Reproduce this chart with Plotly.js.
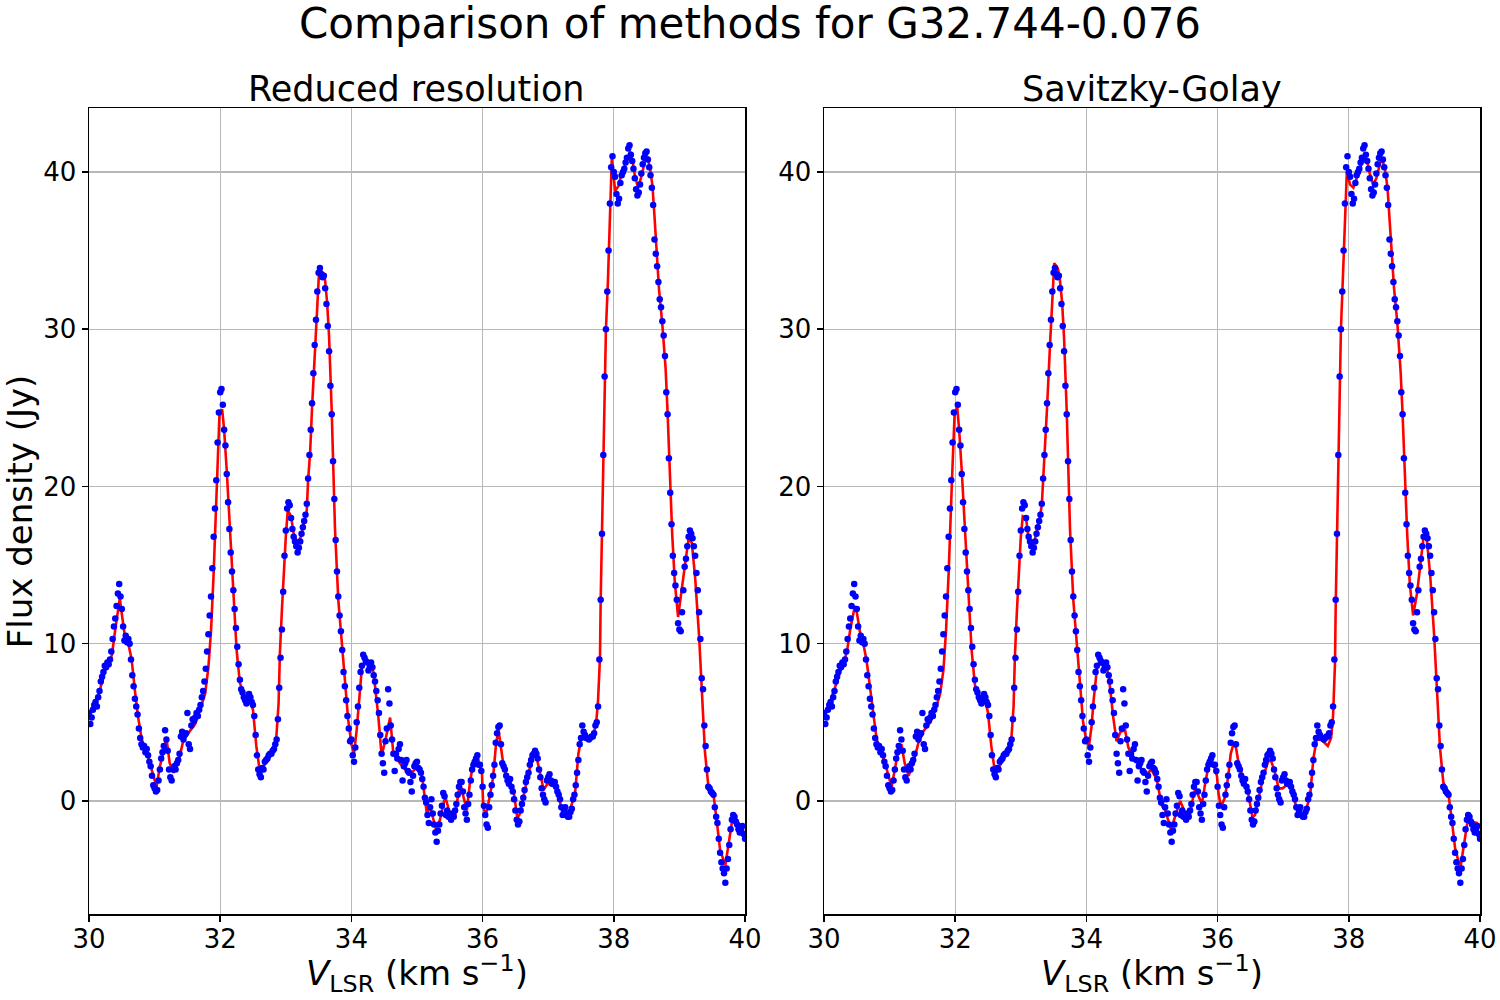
<!DOCTYPE html>
<html>
<head>
<meta charset="utf-8">
<script src="https://cdn.plot.ly/plotly-3.0.1.min.js"></script>
<style>html,body{margin:0;padding:0;background:#fff;}#chart{width:1500px;height:1000px;}</style>
</head>
<body>
<div id="chart"></div>
<script>
// ---- Data ----
const TITLE = "Comparison of methods for G32.744-0.076";
const PANEL_TITLES = ["Reduced resolution", "Savitzky-Golay"];
const X_TICKS = [30, 32, 34, 36, 38, 40];
const Y_TICKS = [0, 10, 20, 30, 40];

// Observed channels (blue dots): start velocity and channel step (km/s)
const VSTART = 30.0;
const VSTEP = 0.02;
const FLUX_OBS = [
  5.6,4.9,5.3,5.8,6.1,6.3,6.0,6.6,7.0,7.6,7.9,8.2,8.6,8.5,8.8,8.7,9.0,9.5,10.3,11.1,11.6,12.4,13.2,13.8,13.0,
  12.2,11.1,10.2,10.5,10.1,10.3,10.0,9.0,8.0,7.3,6.5,6.0,5.5,4.6,4.0,3.6,3.4,3.5,3.1,3.3,2.9,2.5,2.2,1.6,1.0,
  0.8,0.6,0.7,1.3,2.0,2.7,3.1,3.5,4.5,3.9,3.2,2.0,1.5,1.3,2.0,2.2,2.0,2.4,2.6,3.0,4.1,4.4,3.9,4.2,4.3,
  5.6,3.6,3.3,4.8,5.2,5.1,5.3,5.6,5.4,5.8,6.1,6.6,7.0,7.6,8.4,9.5,10.6,11.8,13.0,14.8,16.8,18.6,20.4,22.8,24.7,
  26.0,26.2,25.2,23.6,22.6,20.8,19.0,17.3,15.8,14.6,13.4,12.2,11.0,9.8,8.7,7.7,7.1,6.9,6.6,6.4,6.2,6.5,6.8,6.6,6.3,
  6.1,5.4,4.2,2.9,2.0,1.7,1.5,2.1,2.0,2.5,2.6,2.7,2.9,3.0,3.0,3.2,3.3,3.6,3.9,5.2,7.2,9.1,10.9,13.3,15.6,
  17.2,18.6,19.0,18.8,18.0,17.3,16.8,16.5,16.2,15.8,16.1,16.5,17.0,17.4,17.8,18.2,18.9,20.5,22.0,23.6,25.3,27.2,29.0,30.6,32.4,
  33.6,33.9,33.5,33.3,33.4,32.6,31.6,30.2,28.6,26.4,24.6,21.6,19.2,16.6,14.6,13.0,11.8,10.8,9.6,8.2,7.3,6.4,5.4,4.6,3.8,
  3.9,2.9,2.5,3.4,5.0,6.0,7.2,8.2,8.6,9.3,9.1,8.9,8.8,8.3,8.5,8.8,8.5,8.0,7.6,7.0,6.4,5.6,4.2,3.0,2.4,
  1.8,3.8,4.6,7.1,6.2,4.8,3.9,3.0,1.9,3.0,2.7,3.3,3.6,2.6,1.3,2.2,2.4,2.6,1.9,1.8,1.2,0.6,1.6,2.2,2.4,
  2.5,2.1,2.0,1.8,1.4,0.9,0.2,-0.1,-0.9,-1.4,-0.4,0.1,-0.8,-1.5,-2.0,-2.6,-1.9,-1.5,-0.8,-0.3,0.5,0.3,-0.9,-0.6,-1.0,
  -1.0,-1.2,-0.8,-1.0,-0.6,-0.2,0.4,0.9,1.2,1.2,0.6,-0.4,-0.8,-1.2,-0.2,0.4,1.3,2.0,2.3,2.5,2.7,2.9,2.3,2.3,1.9,
  0.9,-0.3,-0.9,-1.5,-1.7,-0.4,0.4,1.0,1.6,2.3,3.7,4.3,4.7,4.8,3.6,2.4,2.2,2.0,1.6,1.3,1.1,1.4,0.9,0.6,0.1,
  -0.6,-1.2,-1.5,-1.3,-0.6,-0.2,0.2,0.7,1.2,1.5,1.8,2.3,2.6,2.9,3.0,3.2,3.0,2.7,2.0,1.5,0.8,0.4,0.1,-0.1,1.3,
  1.5,1.7,1.3,1.1,1.2,1.2,0.9,0.6,0.4,0.1,-0.4,-0.9,-0.6,-0.4,-0.9,-1.0,-1.0,-0.7,-0.5,0.1,0.4,1.0,1.8,2.6,3.6,
  4.0,4.8,4.4,4.2,4.0,4.0,3.9,4.0,4.1,4.1,4.3,4.8,5.0,6.0,9.0,12.8,17.0,22.0,27.0,30.0,32.4,35.0,38.0,40.3,41.0,
  40.0,39.7,38.6,38.0,38.3,39.3,39.8,40.0,40.2,40.6,40.9,41.5,41.7,41.1,40.7,40.2,39.6,38.9,38.5,38.7,39.2,39.9,40.5,40.9,41.2,
  41.3,40.8,40.3,39.8,39.0,37.9,35.7,34.8,34.0,33.0,31.9,31.4,30.5,29.6,28.3,26.0,24.6,21.8,19.6,17.6,15.6,14.5,13.7,12.8,11.3,
  10.9,10.8,12.0,13.4,14.9,15.4,16.2,16.8,17.2,17.0,16.7,16.2,15.6,14.5,13.4,12.0,10.3,7.8,7.1,4.8,3.5,2.0,0.9,0.8,0.6,
  0.5,0.4,-0.4,-1.0,-1.4,-2.4,-3.3,-3.9,-4.3,-4.6,-5.2,-4.3,-3.7,-2.8,-1.8,-1.2,-0.9,-1.0,-1.3,-1.5,-1.8,-2.0,-1.8,-1.6,-2.1,
  -2.4
];

// Smoothed curves (red lines): velocities and fluxes
const V_SMOOTH = [
  30.00,30.05,30.10,30.15,30.20,30.25,30.30,30.35,30.40,30.47,
  30.50,30.55,30.60,30.65,30.70,30.75,30.80,30.85,30.90,30.95,
  31.03,31.08,31.13,31.18,31.23,31.29,31.36,31.44,31.51,31.62,
  31.69,31.77,31.82,31.86,31.90,31.95,31.99,32.03,32.06,32.10,
  32.15,32.20,32.25,32.30,32.38,32.45,32.50,32.55,32.60,32.63,
  32.71,32.78,32.85,32.89,32.91,32.94,32.97,33.00,33.03,33.08,
  33.12,33.18,33.23,33.28,33.32,33.34,33.37,33.40,33.45,33.49,
  33.51,33.56,33.59,33.63,33.66,33.70,33.75,33.80,33.85,33.90,
  33.95,34.00,34.04,34.08,34.11,34.16,34.20,34.30,34.34,34.41,
  34.46,34.52,34.59,34.64,34.74,34.84,34.92,34.99,35.07,35.15,
  35.20,35.29,35.35,35.43,35.50,35.58,35.63,35.66,35.70,35.76,
  35.81,35.86,35.93,35.99,36.01,36.05,36.11,36.16,36.20,36.24,
  36.28,36.32,36.39,36.47,36.53,36.57,36.62,36.70,36.77,36.81,
  36.87,36.93,36.99,37.05,37.13,37.20,37.25,37.33,37.41,37.46,
  37.51,37.58,37.68,37.73,37.76,37.79,37.80,37.82,37.84,37.86,
  37.88,37.91,37.93,37.95,37.97,38.02,38.07,38.12,38.20,38.25,
  38.29,38.32,38.37,38.42,38.48,38.51,38.55,38.59,38.62,38.66,
  38.69,38.74,38.79,38.82,38.85,38.89,38.93,38.98,39.04,39.10,
  39.14,39.19,39.24,39.30,39.34,39.39,39.44,39.52,39.57,39.62,
  39.70,39.76,39.81,39.87,39.95,40.00
];
const FLUX_REDUCED = [
  5.4,5.9,6.3,6.8,7.6,8.4,8.7,9.3,10.9,12.9,
  11.9,10.4,10.0,9.0,7.0,5.3,4.0,3.3,2.8,2.1,
  0.9,2.2,3.0,4.0,2.4,1.8,2.4,3.9,4.3,4.9,
  5.8,6.8,8.5,10.8,14.5,20.3,24.7,24.9,23.6,21.0,
  17.3,13.3,9.6,7.5,6.6,6.4,5.8,3.5,2.0,1.9,
  2.6,3.0,3.7,6.2,9.4,12.1,14.7,16.8,18.5,18.1,
  17.0,16.4,16.8,17.7,18.5,20.4,22.1,25.0,29.3,32.9,
  33.9,33.6,33.5,31.7,29.5,24.8,17.3,12.8,10.2,7.4,
  5.2,3.6,3.0,4.5,6.2,8.5,8.8,8.8,8.1,5.4,
  2.9,3.9,5.3,3.0,2.4,1.9,1.8,2.1,1.8,-0.8,
  -0.4,-1.8,-1.2,0.3,-0.8,-1.0,0.5,1.1,0.4,-0.6,
  1.3,2.4,2.7,1.8,-0.4,-0.9,0.3,1.5,3.4,4.6,
  3.4,2.2,1.3,0.7,-1.1,-0.8,0.2,1.8,2.8,3.0,
  1.9,0.7,1.1,1.0,0.8,-0.4,-0.7,-0.6,0.5,3.0,
  4.1,4.0,4.1,4.9,6.4,9.2,12.8,17.0,21.0,27.0,
  30.0,33.0,36.0,39.0,40.9,38.8,39.1,39.9,40.7,41.3,
  40.6,39.8,39.0,39.7,40.8,41.0,40.3,39.1,37.2,34.3,
  32.5,30.3,27.5,24.7,21.0,17.0,13.9,11.7,13.6,15.5,
  16.7,16.4,14.2,10.5,7.1,3.1,1.0,0.4,-1.3,-3.1,
  -4.1,-2.5,-1.1,-1.4,-1.6,-2.4
];
const FLUX_SAVGOL = [
  5.2,5.8,6.3,6.9,7.6,8.3,8.8,9.5,10.9,12.4,
  12.0,10.7,10.0,8.9,7.2,5.4,4.0,3.3,2.8,2.1,
  0.9,2.0,3.2,3.6,2.4,1.6,2.4,3.7,4.4,5.0,
  5.7,6.8,8.3,10.8,14.5,20.3,24.5,25.1,23.6,21.0,
  17.3,13.3,9.6,7.4,6.3,6.6,5.6,3.5,2.0,1.8,
  2.5,3.0,3.6,6.0,9.2,12.0,14.8,16.8,18.1,18.0,
  16.6,16.1,16.9,17.8,18.8,20.3,22.3,25.0,29.4,33.0,
  34.2,33.9,33.4,31.7,29.4,24.8,17.3,12.8,10.0,7.2,
  5.0,3.8,3.5,4.8,6.4,8.4,8.7,8.6,8.0,5.3,
  3.8,4.4,4.5,3.4,2.6,2.0,1.7,2.0,1.4,-0.3,
  -0.6,-1.8,-1.0,0.0,-0.7,-0.8,0.3,0.8,0.4,-0.2,
  1.1,2.2,2.4,1.6,0.6,-0.4,0.2,1.5,3.0,3.6,
  3.4,2.4,1.4,0.4,-1.0,-0.9,0.1,1.6,2.5,2.6,
  1.9,0.8,0.8,1.0,0.8,-0.4,-0.8,-0.8,0.3,2.7,
  3.9,3.9,3.5,4.0,5.4,8.8,12.3,16.8,21.0,26.5,
  30.0,33.3,36.0,38.5,40.0,39.2,39.0,39.6,40.6,40.9,
  40.5,39.9,39.2,39.6,40.6,40.8,40.2,39.0,37.2,34.3,
  32.6,30.4,27.3,24.6,21.0,17.0,13.8,11.8,13.2,15.4,
  16.8,16.6,14.4,10.6,7.2,3.4,1.2,0.4,-1.2,-3.0,
  -4.3,-2.7,-1.3,-1.3,-1.4,-1.6
];

// ---- Build figure ----
const V_OBS = FLUX_OBS.map((_, i) => +(VSTART + i * VSTEP).toFixed(3));
const FONT = "DejaVu Sans, Verdana, sans-serif";

function lineTrace(y, xa, ya) {
  return {x: V_SMOOTH, y: y, xaxis: xa, yaxis: ya, type: "scatter", mode: "lines",
          line: {color: "#ff0000", width: 2.6}, hoverinfo: "skip"};
}
function dotTrace(xa, ya) {
  return {x: V_OBS, y: FLUX_OBS, xaxis: xa, yaxis: ya, type: "scatter", mode: "markers",
          marker: {color: "#0000ff", size: 6.5, line: {width: 0}}, hoverinfo: "skip"};
}

const data = [
  lineTrace(FLUX_REDUCED, "x", "y"), dotTrace("x", "y"),
  lineTrace(FLUX_SAVGOL, "x2", "y2"), dotTrace("x2", "y2")
];

function xAxis(domain, anchor) {
  return {domain: domain, anchor: anchor, range: [30, 40], tickvals: X_TICKS,
    ticks: "outside", ticklen: 6, tickwidth: 1.5, tickcolor: "#000", ticklabelstandoff: -5,
    showline: true, mirror: true, linecolor: "#000", linewidth: 1.5,
    showgrid: true, gridcolor: "#b8b8b8", gridwidth: 1.3, zeroline: false,
    tickfont: {family: FONT, size: 26, color: "#000"}};
}
function yAxis(domain, anchor) {
  return {domain: domain, anchor: anchor, range: [-7.19, 44.07], tickvals: Y_TICKS,
    ticks: "outside", ticklen: 6, tickwidth: 1.5, tickcolor: "#000",
    showline: true, mirror: true, linecolor: "#000", linewidth: 1.5,
    showgrid: true, gridcolor: "#b8b8b8", gridwidth: 1.3, zeroline: false,
    tickfont: {family: FONT, size: 26, color: "#000"}};
}

const YDOM = [0.086, 0.892];
const XDOM1 = [89 / 1500, 745 / 1500];
const XDOM2 = [824 / 1500, 1480 / 1500];
const XLABEL = "<i>V</i><sub>LSR</sub> (km s<sup>\u22121</sup>)";

const layout = {
  width: 1500, height: 1000,
  margin: {l: 0, r: 0, t: 0, b: 0},
  paper_bgcolor: "#fff", plot_bgcolor: "#fff",
  showlegend: false,
  font: {family: FONT, color: "#000"},
  xaxis: xAxis(XDOM1, "y"), yaxis: yAxis(YDOM, "x"),
  xaxis2: xAxis(XDOM2, "y2"), yaxis2: yAxis(YDOM, "x2"),
  annotations: [
    {text: TITLE, xref: "paper", yref: "paper", x: 0.5, y: 0.977, xanchor: "center", yanchor: "middle",
     showarrow: false, font: {family: FONT, size: 42, color: "#000"}},
    {text: PANEL_TITLES[0], xref: "paper", yref: "paper", x: (XDOM1[0] + XDOM1[1]) / 2, y: 0.911,
     xanchor: "center", yanchor: "middle", showarrow: false, font: {family: FONT, size: 35, color: "#000"}},
    {text: PANEL_TITLES[1], xref: "paper", yref: "paper", x: (XDOM2[0] + XDOM2[1]) / 2, y: 0.911,
     xanchor: "center", yanchor: "middle", showarrow: false, font: {family: FONT, size: 35, color: "#000"}},
    {text: XLABEL, xref: "paper", yref: "paper", x: (XDOM1[0] + XDOM1[1]) / 2, y: 0.027,
     xanchor: "center", yanchor: "middle", showarrow: false, font: {family: FONT, size: 34, color: "#000"}},
    {text: XLABEL, xref: "paper", yref: "paper", x: (XDOM2[0] + XDOM2[1]) / 2, y: 0.027,
     xanchor: "center", yanchor: "middle", showarrow: false, font: {family: FONT, size: 34, color: "#000"}},
    {text: "Flux density (Jy)", xref: "paper", yref: "paper", x: 0.0135, y: 0.489, textangle: -90,
     xanchor: "center", yanchor: "middle", showarrow: false, font: {family: FONT, size: 34, color: "#000"}}
  ]
};

Plotly.newPlot("chart", data, layout, {staticPlot: true, displayModeBar: false});
</script>
</body>
</html>
